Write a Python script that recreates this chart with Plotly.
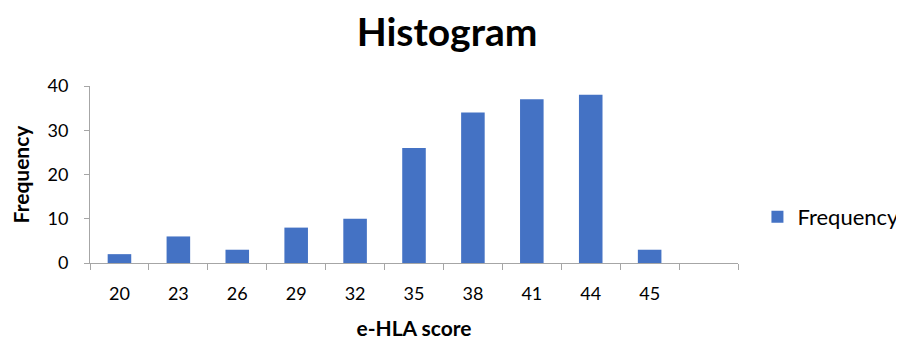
import plotly.graph_objects as go

categories = ["20", "23", "26", "29", "32", "35", "38", "41", "44", "45", " "]
frequency = [2, 6, 3, 8, 10, 26, 34, 37, 38, 3, None]
y_ticks = [0, 10, 20, 30, 40]

FONT = "Lato"
BAR = "#4472C4"
AXIS = "#A6A6A6"

# page body has an 8px default margin, so figure is offset by 8px
fig = go.Figure()
fig.add_trace(go.Bar(
    x=categories, y=frequency, name="Frequency",
    marker=dict(color=BAR, line=dict(width=0)),
    width=0.4, showlegend=True,
))

fig.update_layout(
    width=896, height=335,
    margin=dict(l=82, r=166, t=78, b=80, autoexpand=False),
    paper_bgcolor="white", plot_bgcolor="white",
    font=dict(family=FONT, color="#000000", size=18),
    title=dict(text="<b>Histogram</b>", x=0.49, xanchor="center",
               y=0.928, yanchor="middle",
               font=dict(family=FONT, size=39, color="#000000")),
    bargap=0.6,
    legend=dict(x=1.03, xanchor="left", y=0.26, yanchor="middle",
                font=dict(family=FONT, size=22, color="#000000"),
                bgcolor="rgba(0,0,0,0)", itemwidth=30,
                bordercolor="rgba(0,0,0,0)", borderwidth=0),
    xaxis=dict(
        type="category", categoryorder="array", categoryarray=categories,
        range=[-0.5, 10.5],
        showline=True, linecolor=AXIS, linewidth=1,
        ticks="outside", tickson="boundaries", ticklen=6, tickcolor=AXIS,
        showgrid=False, zeroline=False,
        tickfont=dict(family=FONT, size=18, color="#000000"),
        ticklabelstandoff=14,
        title=dict(text="<b>e-HLA score</b>", standoff=18,
                   font=dict(family=FONT, size=21, color="#000000")),
        automargin=False,
    ),
    yaxis=dict(
        range=[0, 40], tickvals=y_ticks,
        showline=True, linecolor=AXIS, linewidth=1,
        ticks="outside", ticklen=5, tickcolor=AXIS,
        showgrid=False, zeroline=False,
        tickfont=dict(family=FONT, size=18, color="#000000"),
        ticklabelstandoff=12,
        title=dict(text="<b>Frequency</b>", standoff=12,
                   font=dict(family=FONT, size=21, color="#000000")),
        automargin=False,
    ),
)

fig.write_html("out.html")
